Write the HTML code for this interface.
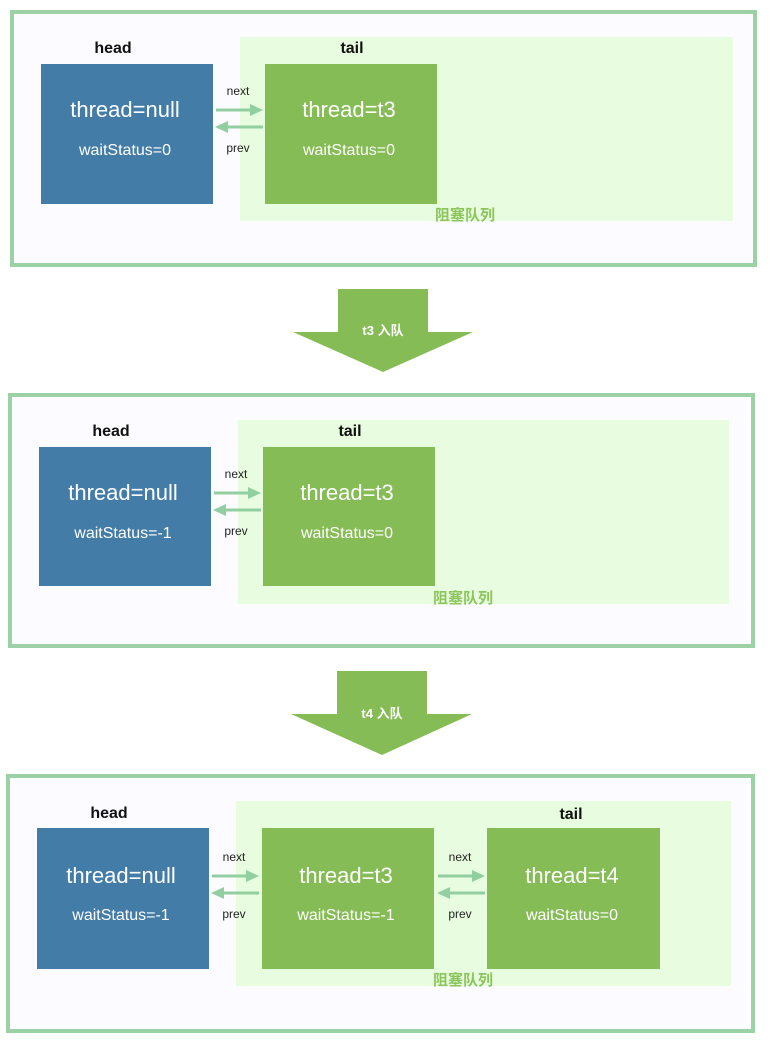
<!DOCTYPE html>
<html><head><meta charset="utf-8"><style>
html,body{margin:0;padding:0;background:#fff;}
svg{display:block;}
text{font-family:"Liberation Sans","Noto Sans CJK SC",sans-serif;}
.w{fill:#fff;text-anchor:middle;}
.t{font-size:22px;}
.s{font-size:16px;}
.lb{font-size:16px;font-weight:bold;fill:#111;text-anchor:middle;}
.sm{font-size:12px;fill:#222;text-anchor:middle;}
.q{font-size:15px;font-weight:bold;fill:#8cc55c;text-anchor:middle;font-family:"Noto Sans CJK SC",sans-serif;}
.ar{stroke:#92cfa0;stroke-width:3;fill:none;}
.ah{fill:#92cfa0;}
</style></head><body>
<svg width="770" height="1042" viewBox="0 0 770 1042" xmlns="http://www.w3.org/2000/svg">
<defs>
<g id="links">
  <text class="sm" x="0" y="0">next</text>
  <line class="ar" x1="-22" y1="15" x2="14" y2="15"/>
  <polygon class="ah" points="12,9 25,15 12,21"/>
  <line class="ar" x1="-12" y1="32" x2="25" y2="32"/>
  <polygon class="ah" points="-10,26 -23,32 -10,38"/>
  <text class="sm" x="0" y="57">prev</text>
</g>
</defs>

<!-- Panel 1 -->
<rect x="12" y="12" width="743" height="253" fill="#fcfbff" stroke="#9cd1a5" stroke-width="4"/>
<rect x="240" y="37" width="493" height="184" fill="#e8fddf"/>
<rect x="41" y="64" width="172" height="140" fill="#447ca8"/>
<rect x="265" y="64" width="172" height="140" fill="#85bc55"/>
<text class="lb" x="113" y="53">head</text>
<text class="lb" x="352" y="53">tail</text>
<text class="w t" x="125" y="117">thread=null</text>
<text class="w s" x="125" y="155">waitStatus=0</text>
<text class="w t" x="349" y="117">thread=t3</text>
<text class="w s" x="349" y="155">waitStatus=0</text>
<use href="#links" x="238" y="95"/>
<text class="q" x="465" y="220">阻塞队列</text>

<!-- Arrow 1 -->
<polygon points="338,289 428,289 428,332 473,332 383,372 293,332 338,332" fill="#85bc55"/>
<text x="383" y="335" fill="#fff" font-size="13" font-weight="bold" text-anchor="middle" font-family="'Liberation Sans','Noto Sans CJK SC',sans-serif">t3 入队</text>

<!-- Panel 2 -->
<rect x="10" y="395" width="743" height="251" fill="#fcfbff" stroke="#9cd1a5" stroke-width="4"/>
<rect x="238" y="420" width="491" height="184" fill="#e8fddf"/>
<rect x="39" y="447" width="172" height="139" fill="#447ca8"/>
<rect x="263" y="447" width="172" height="139" fill="#85bc55"/>
<text class="lb" x="111" y="436">head</text>
<text class="lb" x="350" y="436">tail</text>
<text class="w t" x="123" y="500">thread=null</text>
<text class="w s" x="123" y="538">waitStatus=-1</text>
<text class="w t" x="347" y="500">thread=t3</text>
<text class="w s" x="347" y="538">waitStatus=0</text>
<use href="#links" x="236" y="478"/>
<text class="q" x="463" y="603">阻塞队列</text>

<!-- Arrow 2 -->
<polygon points="337,671 427,671 427,714 472,714 382,755 291,714 337,714" fill="#85bc55"/>
<text x="382" y="718" fill="#fff" font-size="13" font-weight="bold" text-anchor="middle" font-family="'Liberation Sans','Noto Sans CJK SC',sans-serif">t4 入队</text>

<!-- Panel 3 -->
<rect x="8" y="776" width="745" height="255" fill="#fcfbff" stroke="#9cd1a5" stroke-width="4"/>
<rect x="236" y="801" width="495" height="185" fill="#e8fddf"/>
<rect x="37" y="828" width="172" height="141" fill="#447ca8"/>
<rect x="262" y="828" width="172" height="141" fill="#85bc55"/>
<rect x="487" y="828" width="173" height="141" fill="#85bc55"/>
<text class="lb" x="109" y="818">head</text>
<text class="lb" x="571" y="819">tail</text>
<text class="w t" x="121" y="883">thread=null</text>
<text class="w s" x="121" y="920">waitStatus=-1</text>
<text class="w t" x="346" y="883">thread=t3</text>
<text class="w s" x="346" y="920">waitStatus=-1</text>
<text class="w t" x="572" y="883">thread=t4</text>
<text class="w s" x="572" y="920">waitStatus=0</text>
<use href="#links" x="234" y="861"/>
<use href="#links" x="460" y="861"/>
<text class="q" x="463" y="985">阻塞队列</text>
</svg>
</body></html>
